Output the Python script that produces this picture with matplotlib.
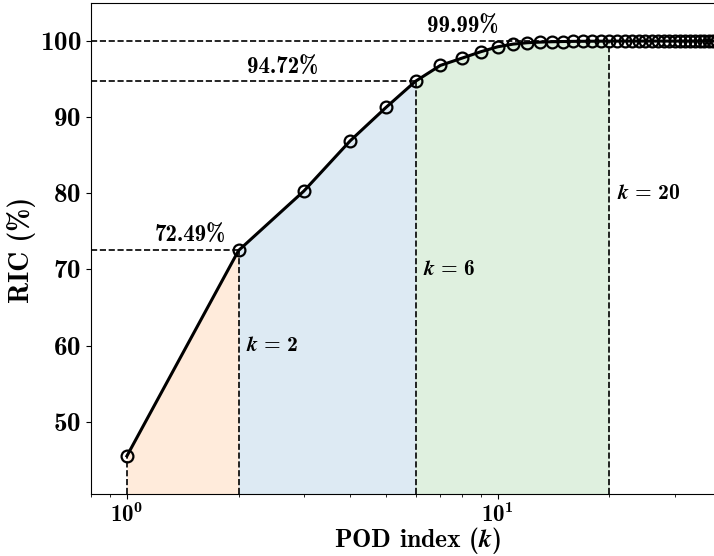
import numpy as np
import matplotlib
matplotlib.use("Agg")
import matplotlib.pyplot as plt

plt.rcParams['mathtext.fontset'] = 'custom'
plt.rcParams['mathtext.rm'] = 'cmb10'
plt.rcParams['mathtext.bf'] = 'cmb10'
plt.rcParams['mathtext.it'] = 'STIXGeneral:italic:bold'
plt.rcParams['mathtext.bfit'] = 'STIXGeneral:italic:bold'
plt.rcParams['mathtext.default'] = 'rm'
plt.rcParams['font.family'] = ['cmb10', 'DejaVu Serif']
plt.rcParams['axes.formatter.use_mathtext'] = True

k_vals = list(range(1, 51))
ric = [45.5, 72.49, 80.3, 86.9, 91.3, 94.72, 96.8, 97.75, 98.6, 99.25,
       99.6, 99.78, 99.86, 99.91, 99.94, 99.96, 99.97, 99.98, 99.985, 99.99,
       99.992, 99.993, 99.994, 99.995, 99.996, 99.996, 99.997, 99.997, 99.998, 99.998,
       99.998, 99.998, 99.999, 99.999, 99.999, 99.999, 99.999, 99.999, 99.999, 99.999,
       100.0, 100.0, 100.0, 100.0, 100.0, 100.0, 100.0, 100.0, 100.0, 100.0]
cut_k = [2, 6, 20]
cut_labels = ['72.49%', '94.72%', '99.99%']
label_pos_x = [1.48, 2.62, 8.05]
label_pos_y = [74.4, 96.5, 101.8]
k_label_y = [60, 70, 80]
region_colors = ['tab:orange', 'tab:blue', 'tab:green']

fig = plt.figure(figsize=(7.14, 5.56), dpi=100)
ax = fig.add_axes([91/714, 1 - 494/556, 666/714, 491/556])

k = np.array(k_vals)
r = np.array(ric)
ymin = 40.5
bounds = [1] + cut_k
for i in range(3):
    m = (k >= bounds[i]) & (k <= bounds[i + 1])
    ax.fill_between(k[m], ymin, r[m], color=region_colors[i], alpha=0.15, linewidth=0)

ax.plot(k, r, color='black', lw=2.2, marker='o', ms=8.5, mfc='none', mec='black', mew=1.6, zorder=5)

ax.vlines([1], ymin, r[0], colors='black', linestyles='--', lw=1.2)
for kk in cut_k:
    ax.vlines([kk], ymin, r[kk - 1], colors='black', linestyles='--', lw=1.2)
    ax.hlines([r[kk - 1]], 0.8, kk, colors='black', linestyles='--', lw=1.2)

for lab, xx, yy in zip(cut_labels, label_pos_x, label_pos_y):
    ax.text(xx, yy, lab, ha='center', va='center', fontsize=16.5)

for kk, yy in zip(cut_k, k_label_y):
    ax.text(kk * 1.05, yy, r'$\mathit{k}\,=\,%d$' % kk, ha='left', va='center', fontsize=15.5)

ax.set_xscale('log')
ax.set_xlim(0.8, 50)
ax.set_ylim(ymin, 105)
ax.set_yticks([50, 60, 70, 80, 90, 100])
ax.tick_params(axis='y', labelsize=19.5)
ax.tick_params(axis='x', labelsize=16.5, pad=2.5)
ax.set_xlabel(r'POD index ($\mathit{k}$)', fontsize=18.5)
ax.set_ylabel(r'RIC (%)', fontsize=20)
ax.xaxis.set_label_coords((418 - 91) / 666, -(525 - 494) / 491)
ax.yaxis.set_label_coords(-(91 - 36) / 666, (494 - 250) / 491)

fig.savefig('out.png', dpi=100)
